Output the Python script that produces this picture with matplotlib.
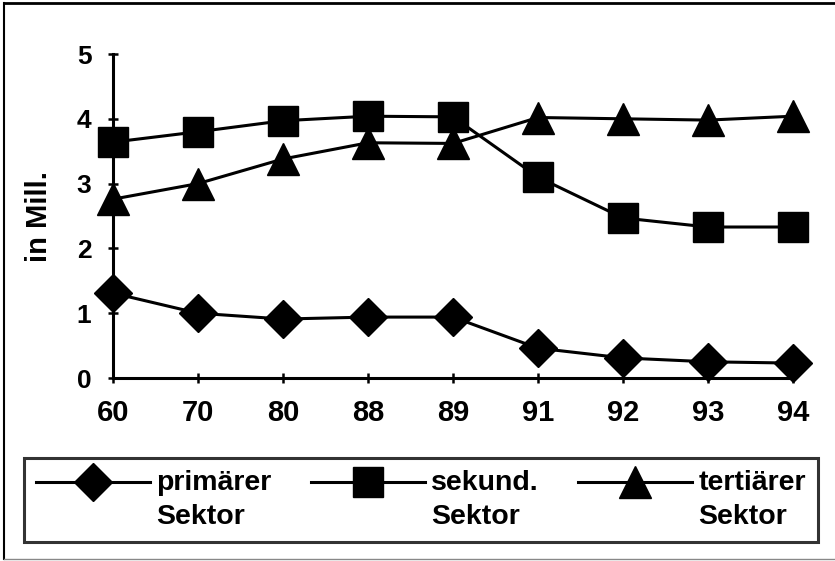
import matplotlib
matplotlib.use("Agg")
import matplotlib.pyplot as plt
from matplotlib.lines import Line2D
from matplotlib.legend_handler import HandlerLine2D

plt.rcParams['font.family'] = ['Liberation Sans', 'DejaVu Sans']
plt.rcParams['font.weight'] = 'bold'

years = ['60', '70', '80', '88', '89', '91', '92', '93', '94']
primaer = [1.31, 1.00, 0.91, 0.94, 0.94, 0.46, 0.31, 0.25, 0.23]
sekundaer = [3.64, 3.80, 3.97, 4.04, 4.03, 3.10, 2.47, 2.33, 2.33]
tertiaer = [2.76, 3.00, 3.38, 3.63, 3.62, 4.02, 4.00, 3.98, 4.04]
labels = ['primärer\nSektor', 'sekund.\nSektor', 'tertiärer\nSektor']


class FirstLineHandler(HandlerLine2D):
    # put the handle next to the first line of a two-line label
    def create_artists(self, legend, orig_handle, xdescent, ydescent,
                       width, height, fontsize, trans):
        shift = 13.0
        return super().create_artists(legend, orig_handle, xdescent,
                                      ydescent - 2 * shift, width, height,
                                      fontsize, trans)


W, H = 835, 561
fig = plt.figure(figsize=(W / 100, H / 100), dpi=100)
ax = fig.add_axes([113 / W, 1 - 378 / H, (793 - 113) / W, (378 - 54) / H])

x = range(len(years))
ax.plot(x, primaer, color='black', lw=2.2, marker='D', ms=19, label=labels[0])
ax.plot(x, sekundaer, color='black', lw=2.2, marker='s', ms=22, label=labels[1])
ax.plot(x, tertiaer, color='black', lw=2.2, marker='^', ms=23.5, label=labels[2])

ax.set_xlim(0, len(years) - 1)
ax.set_ylim(0, 5)
ax.set_xticks(list(x))
ax.set_xticklabels(years)
ax.set_yticks(range(6))
for s in ['top', 'right']:
    ax.spines[s].set_visible(False)
for s in ['left', 'bottom']:
    ax.spines[s].set_linewidth(2.2)
ax.tick_params(direction='inout', length=7, width=1.8)
ax.tick_params(axis='x', pad=11.5, labelsize=21)
ax.tick_params(axis='y', pad=12, labelsize=19)
ax.set_ylabel('in Mill.', fontsize=21, fontweight='bold')
ax.yaxis.set_label_coords(-0.088, 0.5)
for c in ax.get_children():
    if isinstance(c, Line2D):
        c.set_clip_on(False)

leg = fig.legend(loc='center', ncol=3, mode='expand',
                 bbox_to_anchor=(24 / W, 1 - 547 / H, (818 - 24) / W, 94 / H),
                 fontsize=20.5, handlelength=4.0, handletextpad=0.22,
                 columnspacing=0.5, fancybox=False, borderaxespad=0,
                 borderpad=0.42, frameon=True,
                 handler_map={Line2D: FirstLineHandler()})
leg.get_frame().set_edgecolor('black')
leg.get_frame().set_linewidth(2.2)
for t in leg.get_texts():
    t.set_linespacing(1.4)

# outer frame of the scanned figure
fig.add_artist(Line2D([4 / W, 4 / W], [1 - 559 / H, 1 - 3 / H], color='black', lw=1.5))
fig.add_artist(Line2D([4 / W, 1], [1 - 3 / H, 1 - 3 / H], color='black', lw=2))
fig.add_artist(Line2D([4 / W, 1], [1 - 559 / H, 1 - 559 / H], color='#888888', lw=1))

fig.savefig('out.png', dpi=100)
